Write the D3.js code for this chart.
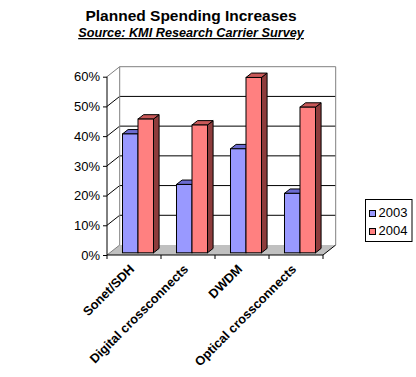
<!DOCTYPE html>
<html>
<head>
    <meta charset="UTF-8">
    <title>Planned Spending Increases</title>
    <script src="https://cdn.jsdelivr.net/npm/d3@7/dist/d3.min.js"></script>
    <style>
        body { margin: 0; background: #fff; }
        text { font-family: Arial, "Liberation Sans", sans-serif; }
    </style>
</head>
<body>
    <svg id="chart" width="416" height="377"></svg>
    <script>
        // data
        var categories = ["Sonet/SDH", "Digital crossconnects", "DWDM", "Optical crossconnects"];
        var years = ["2003", "2004"];
        var values2003 = [0.40, 0.23, 0.35, 0.20];
        var values2004 = [0.45, 0.43, 0.59, 0.49];
        var yTicks = [0, 0.1, 0.2, 0.3, 0.4, 0.5, 0.6];

        var colors = {
            "2003": { front: "#9999ff", top: "#6b6bd0", side: "#4a4aa0" },
            "2004": { front: "#ff8080", top: "#c85858", side: "#8e3c3c" }
        };

        var svg = d3.select("#chart");

        // front plane of the plot and the 3d depth offset
        var pLeft = 107, pRight = 323, pBottom = 255, pTop = 76.7;
        var depthX = 12.7, depthY = -10;
        var x = d3.scaleBand().domain(categories).range([pLeft, pRight]);
        var y = d3.scaleLinear().domain([0, 0.6]).range([pBottom, pTop]);

        function pts(arr) {
            return arr.map(function (p) { return p[0] + "," + p[1]; }).join(" ");
        }

        // floor
        svg.append("polygon")
            .attr("points", pts([[pLeft, pBottom], [pRight, pBottom], [pRight + depthX, pBottom + depthY], [pLeft + depthX, pBottom + depthY]]))
            .attr("fill", "#c0c0c0");
        svg.append("line")
            .attr("x1", pRight).attr("y1", pBottom)
            .attr("x2", pRight + depthX).attr("y2", pBottom + depthY)
            .attr("stroke", "#000").attr("stroke-width", 1);
        svg.append("line")
            .attr("x1", pLeft).attr("y1", pBottom)
            .attr("x2", pLeft + depthX).attr("y2", pBottom + depthY)
            .attr("stroke", "#808080").attr("stroke-width", 1);

        // gridlines: left wall diagonals and back wall horizontals
        var grid = svg.append("g");
        yTicks.slice(1, -1).forEach(function (t) {
            grid.append("line")
                .attr("x1", pLeft).attr("y1", y(t))
                .attr("x2", pLeft + depthX).attr("y2", y(t) + depthY)
                .attr("stroke", "#000");
            grid.append("line")
                .attr("x1", pLeft + depthX).attr("y1", y(t) + depthY)
                .attr("x2", pRight + depthX).attr("y2", y(t) + depthY)
                .attr("stroke", "#000");
        });

        // wall borders (grey)
        svg.append("polyline")
            .attr("points", pts([[pLeft, pTop], [pLeft + depthX, pTop + depthY], [pRight + depthX, pTop + depthY], [pRight + depthX, pBottom + depthY]]))
            .attr("fill", "none").attr("stroke", "#808080");
        svg.append("line")
            .attr("x1", pLeft + depthX).attr("y1", pTop + depthY)
            .attr("x2", pLeft + depthX).attr("y2", pBottom + depthY)
            .attr("stroke", "#808080");

        // bars
        var f0 = 0.22, f1 = 0.66;
        var barW = 15.5, barOff = 12.7;
        var series = [values2003, values2004];
        var bars = svg.append("g");
        categories.forEach(function (c, i) {
            series.forEach(function (vals, s) {
                var col = colors[years[s]];
                var x0 = x(c) + barOff + s * barW + depthX * f0;
                var x1 = x0 + barW;
                var yb = pBottom + depthY * f0;
                var yt = y(vals[i]) + depthY * f0;
                var ddx = depthX * (f1 - f0), ddy = depthY * (f1 - f0);
                bars.append("polygon")
                    .attr("points", pts([[x1, yb], [x1 + ddx, yb + ddy], [x1 + ddx, yt + ddy], [x1, yt]]))
                    .attr("fill", col.side).attr("stroke", "#000").attr("stroke-width", 1);
                bars.append("polygon")
                    .attr("points", pts([[x0, yt], [x1, yt], [x1 + ddx, yt + ddy], [x0 + ddx, yt + ddy]]))
                    .attr("fill", col.top).attr("stroke", "#000").attr("stroke-width", 1);
                bars.append("rect")
                    .attr("x", x0).attr("y", yt)
                    .attr("width", barW).attr("height", yb - yt)
                    .attr("fill", col.front).attr("stroke", "#000").attr("stroke-width", 1);
            });
        });

        // y axis
        var yAxis = svg.append("g")
            .attr("transform", "translate(" + pLeft + ",0)")
            .call(d3.axisLeft(y).tickValues(yTicks).tickFormat(d3.format(".0%")).tickSize(4).tickPadding(3));
        yAxis.select(".domain").attr("stroke", "#000").attr("d", "M0," + pTop + "V" + pBottom);
        yAxis.selectAll("text").attr("font-size", 13).attr("font-family", "Arial, 'Liberation Sans', sans-serif").attr("fill", "#000");

        // x axis
        var xAxis = svg.append("g")
            .attr("transform", "translate(0," + pBottom + ")");
        xAxis.append("line")
            .attr("x1", pLeft).attr("x2", pRight)
            .attr("stroke", "#000");
        xAxis.selectAll(".tick")
            .data(categories.map(function (c) { return x(c); }).concat([pRight]))
            .enter().append("line")
            .attr("x1", function (d) { return d; }).attr("x2", function (d) { return d; })
            .attr("y1", 0).attr("y2", 4)
            .attr("stroke", "#000");
        xAxis.selectAll(".lbl")
            .data(categories)
            .enter().append("text")
            .attr("transform", function (d) {
                return "translate(" + (x(d) + x.bandwidth() / 2 + 1) + ",15) rotate(-45)";
            })
            .attr("text-anchor", "end")
            .attr("font-size", 12.8)
            .attr("font-weight", "bold")
            .text(function (d) { return d; });

        // titles
        svg.append("text")
            .attr("x", 191).attr("y", 21)
            .attr("text-anchor", "middle")
            .attr("font-size", 15.5).attr("font-weight", "bold")
            .text("Planned Spending Increases");
        svg.append("text")
            .attr("x", 191).attr("y", 37)
            .attr("text-anchor", "middle")
            .attr("font-size", 12.7).attr("font-weight", "bold").attr("font-style", "italic")
            .attr("text-decoration", "underline")
            .text("Source: KMI Research Carrier Survey");

        // legend
        var legend = svg.append("g").attr("transform", "translate(365.5,199.5)");
        legend.append("rect")
            .attr("width", 46.5).attr("height", 42)
            .attr("fill", "#fff").attr("stroke", "#000");
        years.forEach(function (yr, i) {
            var g = legend.append("g").attr("transform", "translate(4," + (11 + i * 18) + ")");
            g.append("rect")
                .attr("width", 6).attr("height", 6)
                .attr("fill", colors[yr].front).attr("stroke", "#000");
            g.append("text")
                .attr("x", 9).attr("y", 6)
                .attr("font-size", 13)
                .text(yr);
        });
    </script>
</body>
</html>
